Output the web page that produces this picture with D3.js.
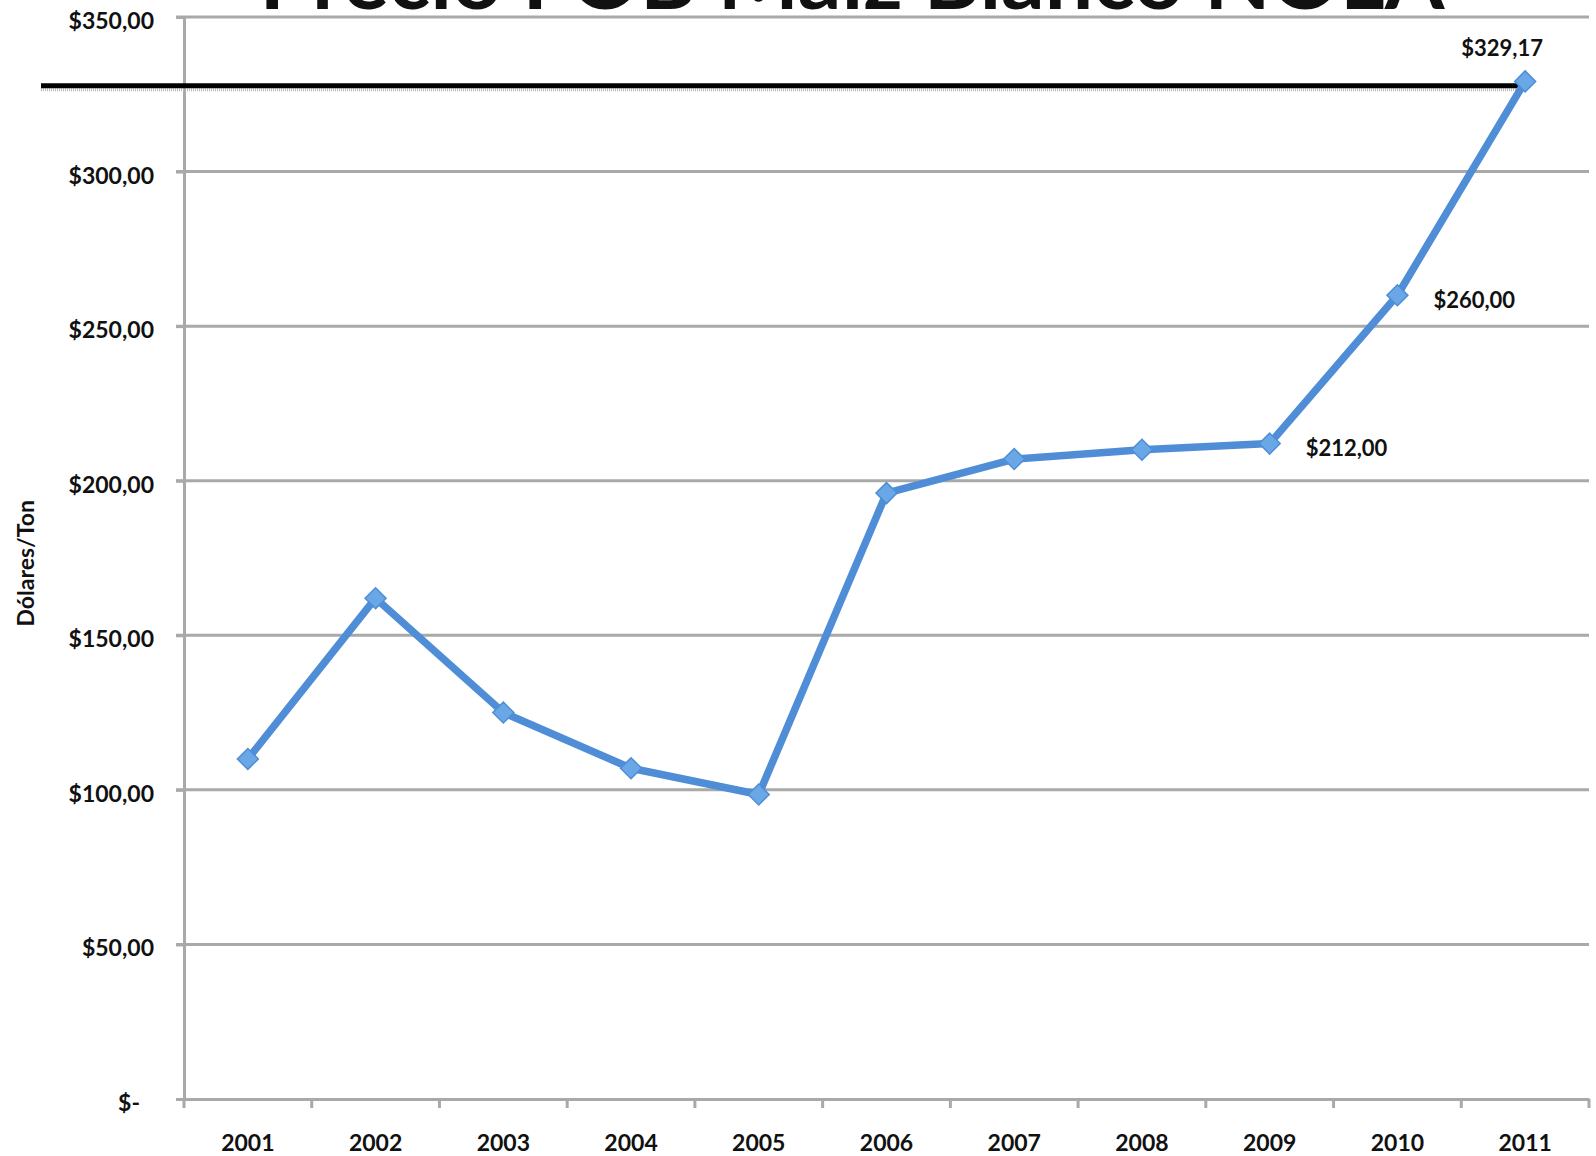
<!DOCTYPE html>
<html><head><meta charset="utf-8">
<script src="https://cdn.jsdelivr.net/npm/d3@7"></script>
<style>
html,body{margin:0;padding:0;background:#fff;}
text{font-family:Lato,"Open Sans",sans-serif;font-weight:bold;fill:#111;}
</style></head>
<body>
<svg id="chart" width="1596" height="1156"></svg>
<script>
const title = "Precio FOB Maíz Blanco NOLA";
const yAxisTitle = "Dólares/Ton";
const years = ["2001","2002","2003","2004","2005","2006","2007","2008","2009","2010","2011"];
const prices = [110, 162, 125, 107, 98.5, 196, 207, 210, 212, 260, 329.17];
const labelledYears = ["2009","2010","2011"];
const yTicks = [0, 50, 100, 150, 200, 250, 300, 350];
const refLineValue = 327.8;

const m = {left:184, right:1589, top:17, bottom:1099};
const svg = d3.select("#chart");

const x = d3.scaleBand().domain(years).range([m.left, m.right]).padding(0);
const y = d3.scaleLinear().domain([0, 350]).range([m.bottom, m.top]);

const fmt = v => v === 0 ? "$-" : "$" + d3.format(".2f")(v).replace(".", ",");

// title (cut at top as in reference)
svg.append("text").attr("x", 852).attr("y", 9).attr("text-anchor","middle")
  .attr("font-size", 82).attr("textLength", 1185).attr("lengthAdjust","spacingAndGlyphs")
  .text(title);

// gridlines
svg.append("g").selectAll("line").data(yTicks.filter(d=>d>0)).join("line")
  .attr("x1", m.left-8).attr("x2", m.right)
  .attr("y1", d=>y(d)).attr("y2", d=>y(d))
  .attr("stroke", "#a9a9a9").attr("stroke-width", 3);

// y axis
const yAxis = svg.append("g").attr("transform", `translate(${m.left},0)`)
  .call(d3.axisLeft(y).tickValues(yTicks).tickFormat(fmt).tickSize(8).tickPadding(22));
yAxis.select(".domain").attr("stroke","#a9a9a9").attr("stroke-width",3);
yAxis.selectAll(".tick line").attr("stroke","#a9a9a9").attr("stroke-width",3);
yAxis.selectAll(".tick text").attr("font-size", 23).attr("fill","#111")
  .style("font-family","Lato").style("font-weight","bold")
  .attr("dx", d => d===0 ? -14 : 0).attr("dy", "0.5em");

// x axis
const xAxis = svg.append("g").attr("transform", `translate(0,${m.bottom})`)
  .call(d3.axisBottom(x).tickSize(0).tickPadding(36));
xAxis.select(".domain").attr("stroke","#a9a9a9").attr("stroke-width",3);
xAxis.selectAll(".tick text").attr("font-size", 23).attr("fill","#111")
  .style("font-family","Lato").style("font-weight","bold");
const bounds = years.map(d=>x(d)).concat([m.right]);
xAxis.selectAll("line.cat").data(bounds).join("line").attr("class","cat")
  .attr("x1", d=>d).attr("x2", d=>d).attr("y1", 0).attr("y2", 9)
  .attr("stroke","#a9a9a9").attr("stroke-width",3);

// y axis title
svg.append("text").attr("transform", `translate(34,${y(150)-72}) rotate(-90)`)
  .attr("text-anchor","middle").attr("font-size", 23).text(yAxisTitle);

// reference line (drawn annotation)
const xLast = x(years[years.length-1]) + x.bandwidth()/2;
svg.append("line").attr("x1", 41).attr("x2", xLast)
  .attr("y1", y(refLineValue)+4).attr("y2", y(refLineValue)+4)
  .attr("stroke", "#bbb").attr("stroke-width", 3).attr("stroke-dasharray","1,1");
svg.append("line").attr("x1", 41).attr("x2", xLast)
  .attr("y1", y(refLineValue)).attr("y2", y(refLineValue))
  .attr("stroke", "#000").attr("stroke-width", 5);

// series
const data = years.map((yr,i)=>({yr, v:prices[i]}));
const line = d3.line().x(d=>x(d.yr)+x.bandwidth()/2).y(d=>y(d.v));
svg.append("path").datum(data).attr("d", line).attr("fill","none")
  .attr("stroke","#4f8ed6").attr("stroke-width",7.5).attr("stroke-linejoin","round");
svg.append("g").selectAll("path").data(data).join("path")
  .attr("transform", d=>`translate(${x(d.yr)+x.bandwidth()/2},${y(d.v)}) rotate(45)`)
  .attr("d", d3.symbol(d3.symbolSquare, 220)())
  .attr("fill","#6aa7e6").attr("stroke","#4f8ed6").attr("stroke-width",1.5);

// data labels
svg.append("g").selectAll("text").data(data.filter(d=>labelledYears.includes(d.yr))).join("text")
  .attr("x", d=>{const cx=x(d.yr)+x.bandwidth()/2; return d.yr==="2011" ? cx-23 : cx+36;})
  .attr("y", d=>{const cy=y(d.v); return d.yr==="2011" ? cy-31 : cy+7;})
  .attr("text-anchor", d=>d.yr==="2011" ? "middle" : "start")
  .attr("dominant-baseline","middle")
  .attr("font-size", 22).text(d=>fmt(d.v));
</script>
</body></html>
